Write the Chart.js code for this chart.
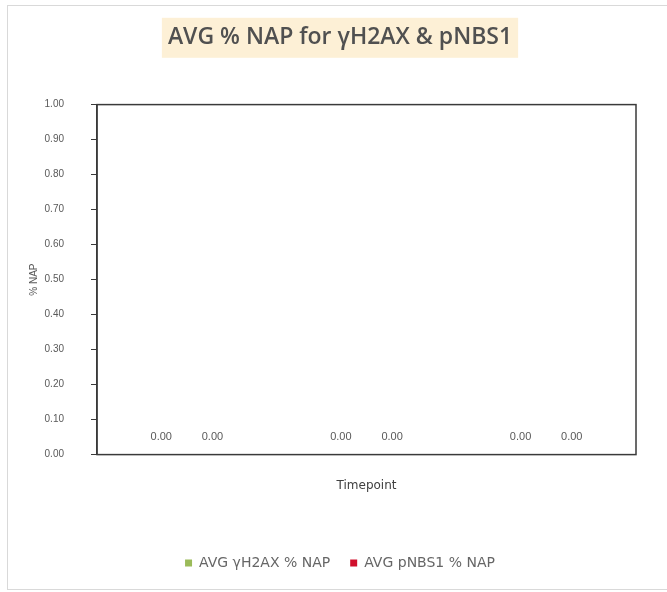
<!DOCTYPE html>
<html>
<head>
<meta charset="utf-8">
<script src="https://cdn.jsdelivr.net/npm/chart.js@4.4.1/dist/chart.umd.min.js"></script>
<style>
  html, body { margin: 0; padding: 0; background: #fff; }
  #wrap { position: relative; width: 667px; height: 592px; }
</style>
</head>
<body>
<div id="wrap"><canvas id="napChart"></canvas></div>
<script>
// --- Data ---
const timepoints = ['', '', ''];
const avgH2AX = [0, 0, 0];
const avgPNBS1 = [0, 0, 0];
const seriesNames = ['AVG \u03b3H2AX % NAP', 'AVG pNBS1 % NAP'];
const yMin = 0;
const yMax = 1;
const yStep = 0.1;

const textGray = '#595959';

// peach box behind the title + light outer frame
const titleBg = {
  id: 'titleBg',
  beforeDraw(chart) {
    const ctx = chart.ctx;
    const t = chart.titleBlock;
    const opts = chart.options.plugins.title;
    ctx.save();
    // outer chart frame
    ctx.strokeStyle = '#d9d9d9';
    ctx.lineWidth = 1;
    ctx.strokeRect(7.5, 5.5, 666, 584);
    // title box
    ctx.font = `${opts.font.weight} ${opts.font.size}px ${opts.font.family}`;
    const w = ctx.measureText(opts.text).width;
    const cx = (t.left + t.right) / 2;
    const cy = t.top + opts.padding.top + opts.font.size * 1.2 / 2;
    ctx.fillStyle = '#fdf0d6';
    ctx.fillRect(cx - w / 2 - 6, cy - 20, w + 12, 40);
    ctx.restore();
  }
};

// plot-area box and value labels
const frameAndLabels = {
  id: 'frameAndLabels',
  afterDatasetsDraw(chart) {
    const ctx = chart.ctx;
    const a = chart.chartArea;
    ctx.save();
    ctx.strokeStyle = '#3a3a3a';
    ctx.lineWidth = 1.5;
    ctx.strokeRect(a.left, a.top, a.right - a.left, a.bottom - a.top);

    ctx.font = '11px "Liberation Sans", sans-serif';
    ctx.fillStyle = textGray;
    ctx.textAlign = 'center';
    ctx.textBaseline = 'middle';
    chart.data.datasets.forEach((ds, i) => {
      chart.getDatasetMeta(i).data.forEach((bar, j) => {
        ctx.fillText(ds.data[j].toFixed(2), bar.x, bar.y - 18);
      });
    });
    ctx.restore();
  }
};

new Chart(document.getElementById('napChart'), {
  type: 'bar',
  data: {
    labels: timepoints,
    datasets: [
      { label: seriesNames[0], data: avgH2AX, backgroundColor: '#9bbb59', categoryPercentage: 0.57, barPercentage: 0.9 },
      { label: seriesNames[1], data: avgPNBS1, backgroundColor: '#d0102c', categoryPercentage: 0.57, barPercentage: 0.9 }
    ]
  },
  options: {
    responsive: true,
    maintainAspectRatio: false,
    animation: false,
    // left pad a bit wider so title and legend centre near where the original's do
    layout: { padding: { top: 5, left: 44, right: 31, bottom: 12 } },
    plugins: {
      title: {
        display: true,
        text: 'AVG % NAP for \u03b3H2AX & pNBS1',
        color: '#505050',
        font: { family: '"Open Sans", sans-serif', size: 23, weight: '600' },
        padding: { top: 19, bottom: 53 }
      },
      legend: {
        position: 'bottom',
        labels: {
          color: '#666666',
          font: { family: '"DejaVu Sans", sans-serif', size: 14 },
          boxWidth: 7,
          boxHeight: 7,
          padding: 20
        }
      },
      tooltip: { enabled: false }
    },
    scales: {
      x: {
        grid: { display: false, drawTicks: false },
        border: { display: false },
        ticks: { display: false },
        title: {
          display: true,
          text: 'Timepoint',
          color: '#404040',
          font: { family: '"DejaVu Sans", sans-serif', size: 12 },
          padding: { top: 24, bottom: 43 }
        }
      },
      y: {
        min: yMin,
        max: yMax,
        afterFit(scale) { scale.width = 53; },
        ticks: {
          stepSize: yStep,
          color: textGray,
          padding: 27,
          font: { family: '"Liberation Sans", sans-serif', size: 10 },
          callback: v => v.toFixed(2)
        },
        grid: { drawOnChartArea: false, color: '#3a3a3a', tickLength: 6 },
        border: { display: true, color: '#3a3a3a', width: 1.5 },
        title: {
          display: true,
          text: '% NAP',
          color: textGray,
          font: { family: '"Liberation Sans", sans-serif', size: 10 },
          padding: { top: -16, bottom: 4 }
        }
      }
    }
  },
  plugins: [titleBg, frameAndLabels]
});
</script>
</body>
</html>
